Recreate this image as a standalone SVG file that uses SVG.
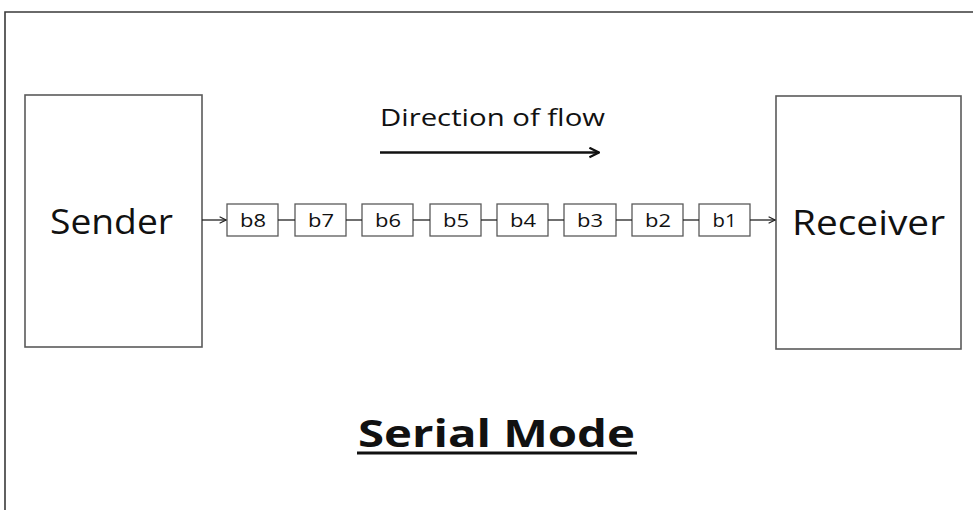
<svg xmlns="http://www.w3.org/2000/svg" width="973" height="510" viewBox="0 0 973 510">
  <style>
    .frame { fill: none; stroke: #3a3a3a; stroke-width: 1.6; }
    .box { fill: #ffffff; stroke: #5a5a5a; stroke-width: 1.6; }
    .bit { fill: #ffffff; stroke: #5a5a5a; stroke-width: 1.3; }
    .big { font-family: "Open Sans", "DejaVu Sans", sans-serif; font-size: 34px; fill: #111; }
    .bittxt { font-family: "Open Sans", "DejaVu Sans", sans-serif; font-size: 17.5px; fill: #111; }
    .link { stroke: #222; stroke-width: 1.3; fill: none; }
  </style>
  <defs>
    <marker id="open" viewBox="0 0 10 10" refX="9" refY="5" markerWidth="8" markerHeight="8" markerUnits="userSpaceOnUse" orient="auto">
      <path d="M1,1 L9,5 L1,9" fill="none" stroke="#222" stroke-width="1.4"/>
    </marker>
    <marker id="flowhead" viewBox="0 0 10 10" refX="9" refY="5" markerWidth="12" markerHeight="12" markerUnits="userSpaceOnUse" orient="auto">
      <path d="M1,1 L9,5 L1,9" fill="none" stroke="#111" stroke-width="1.8"/>
    </marker>
  </defs>

  <rect width="973" height="510" fill="#ffffff"/>

  <!-- outer frame (top and left edges) -->
  <path class="frame" d="M5,510 V12 H973"/>

  <g id="sender">
    <rect class="box" x="25" y="95" width="177" height="252"/>
    <text class="big" x="50" y="234" textLength="123" lengthAdjust="spacingAndGlyphs">Sender</text>
  </g>

  <g id="receiver">
    <rect class="box" x="776" y="96" width="185" height="253"/>
    <text class="big" x="792" y="235" textLength="153" lengthAdjust="spacingAndGlyphs">Receiver</text>
  </g>

  <g id="b8"><rect class="bit" x="227" y="204" width="51" height="32"/><text class="bittxt" x="240" y="226.5" textLength="26" lengthAdjust="spacingAndGlyphs">b8</text></g>
  <g id="b7"><rect class="bit" x="295" y="204" width="51" height="32"/><text class="bittxt" x="308" y="226.5" textLength="26" lengthAdjust="spacingAndGlyphs">b7</text></g>
  <g id="b6"><rect class="bit" x="362" y="204" width="51" height="32"/><text class="bittxt" x="375" y="226.5" textLength="26" lengthAdjust="spacingAndGlyphs">b6</text></g>
  <g id="b5"><rect class="bit" x="430" y="204" width="51" height="32"/><text class="bittxt" x="443" y="226.5" textLength="26" lengthAdjust="spacingAndGlyphs">b5</text></g>
  <g id="b4"><rect class="bit" x="497" y="204" width="51" height="32"/><text class="bittxt" x="510" y="226.5" textLength="26" lengthAdjust="spacingAndGlyphs">b4</text></g>
  <g id="b3"><rect class="bit" x="564" y="204" width="52" height="32"/><text class="bittxt" x="577" y="226.5" textLength="26" lengthAdjust="spacingAndGlyphs">b3</text></g>
  <g id="b2"><rect class="bit" x="632" y="204" width="51" height="32"/><text class="bittxt" x="645" y="226.5" textLength="26" lengthAdjust="spacingAndGlyphs">b2</text></g>
  <g id="b1"><rect class="bit" x="699" y="204" width="51" height="32"/><text class="bittxt" x="712.5" y="226.5" textLength="24" lengthAdjust="spacingAndGlyphs">b1</text></g>

  <g id="connectors">
    <line class="link" x1="202" y1="220" x2="226" y2="220" marker-end="url(#open)"/>
    <line class="link" x1="278" y1="220" x2="295" y2="220"/>
    <line class="link" x1="346" y1="220" x2="362" y2="220"/>
    <line class="link" x1="413" y1="220" x2="430" y2="220"/>
    <line class="link" x1="481" y1="220" x2="497" y2="220"/>
    <line class="link" x1="548" y1="220" x2="564" y2="220"/>
    <line class="link" x1="616" y1="220" x2="632" y2="220"/>
    <line class="link" x1="683" y1="220" x2="699" y2="220"/>
    <line class="link" x1="750" y1="220" x2="775" y2="220" marker-end="url(#open)"/>
  </g>

  <g id="flow">
    <text x="380" y="126" font-family="'Open Sans', 'DejaVu Sans', sans-serif" font-size="24.5" fill="#111" textLength="225" lengthAdjust="spacingAndGlyphs">Direction of flow</text>
    <line x1="380" y1="152.5" x2="599" y2="152.5" stroke="#111" stroke-width="2.4" marker-end="url(#flowhead)"/>
  </g>

  <g id="title">
    <text x="358" y="446.5" font-family="'Open Sans', 'DejaVu Sans', sans-serif" font-size="37.5" font-weight="bold" fill="#111" textLength="277" lengthAdjust="spacingAndGlyphs">Serial Mode</text>
    <line x1="357" y1="453" x2="637" y2="453" stroke="#111" stroke-width="3"/>
  </g>
</svg>
